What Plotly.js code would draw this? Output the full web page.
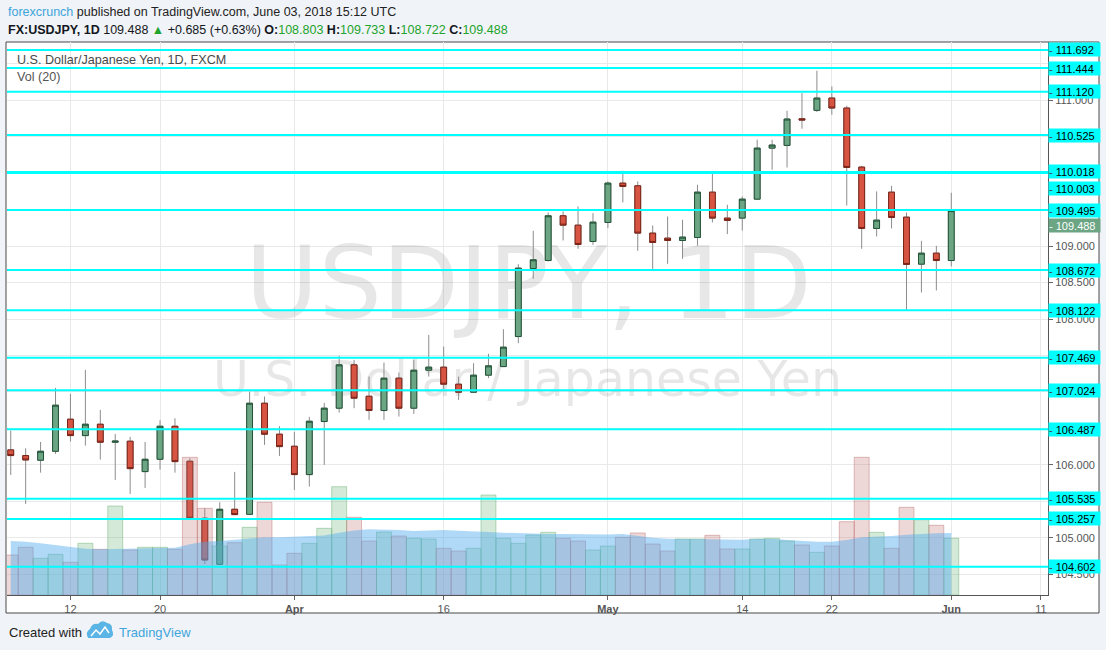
<!DOCTYPE html>
<html><head><meta charset="utf-8">
<script src="https://cdn.plot.ly/plotly-3.0.1.min.js"></script>
<style>html,body{margin:0;padding:0;background:#f0f3f7;}#chart{width:1106px;height:650px;}</style>
</head><body><div id="chart"></div>
<script>
// ---------- DATA ----------
const dates = ['2018-03-06','2018-03-07','2018-03-08','2018-03-09','2018-03-12','2018-03-13','2018-03-14','2018-03-15','2018-03-16','2018-03-19','2018-03-20','2018-03-21','2018-03-22','2018-03-23','2018-03-26','2018-03-27','2018-03-28','2018-03-29','2018-03-30','2018-04-02','2018-04-03','2018-04-04','2018-04-05','2018-04-06','2018-04-09','2018-04-10','2018-04-11','2018-04-12','2018-04-13','2018-04-16','2018-04-17','2018-04-18','2018-04-19','2018-04-20','2018-04-23','2018-04-24','2018-04-25','2018-04-26','2018-04-27','2018-04-30','2018-05-01','2018-05-02','2018-05-03','2018-05-04','2018-05-07','2018-05-08','2018-05-09','2018-05-10','2018-05-11','2018-05-14','2018-05-15','2018-05-16','2018-05-17','2018-05-18','2018-05-21','2018-05-22','2018-05-23','2018-05-24','2018-05-25','2018-05-28','2018-05-29','2018-05-30','2018-05-31','2018-06-01'];
const open  = [106.205,106.127,106.063,106.186,106.626,106.401,106.557,106.310,106.324,105.907,106.076,106.529,106.049,105.267,104.635,105.390,105.321,106.845,106.420,106.255,105.866,106.594,106.777,107.372,106.941,106.745,107.189,106.777,107.298,107.340,107.106,106.996,107.230,107.348,107.760,108.693,108.803,109.417,109.288,109.064,109.325,109.865,109.828,109.179,109.110,109.078,109.119,109.741,109.385,109.385,109.645,110.345,110.382,110.748,110.863,111.032,110.895,110.085,109.243,109.741,109.398,108.753,108.904,108.803];
const high  = [106.470,106.227,106.314,107.056,106.973,107.303,106.754,106.424,106.383,106.314,106.612,106.639,106.090,105.404,105.486,105.903,107.005,106.937,106.529,106.452,106.658,106.850,107.495,107.440,107.211,107.404,107.266,107.440,107.783,107.623,107.211,107.394,107.523,107.861,108.753,109.211,109.462,109.476,109.545,109.453,109.888,110.034,109.888,109.284,109.407,109.362,109.842,109.993,109.568,109.682,110.460,110.460,110.858,111.100,111.407,111.192,110.927,110.103,109.751,109.828,109.462,109.073,109.005,109.733];
const low   = [105.861,105.463,105.893,106.150,106.319,106.264,106.072,105.793,105.601,105.683,105.935,105.893,105.260,104.640,104.630,105.310,105.310,106.273,106.122,105.655,105.701,105.999,106.717,106.777,106.617,106.617,106.662,106.699,107.211,107.038,106.891,106.990,107.189,107.340,107.669,108.552,108.790,109.078,108.964,109.018,109.247,109.600,108.936,108.662,108.758,108.826,109.005,109.325,109.165,109.215,109.640,110.048,110.080,110.611,110.840,110.803,109.558,108.964,109.133,109.243,108.126,108.364,108.392,108.722];
const close = [106.127,106.067,106.186,106.818,106.401,106.557,106.310,106.325,105.948,106.076,106.529,106.044,105.267,104.695,105.390,105.317,106.845,106.420,106.250,105.866,106.598,106.777,107.372,106.914,106.745,107.189,106.777,107.298,107.340,107.106,106.996,107.230,107.358,107.614,108.698,108.813,109.417,109.288,109.023,109.330,109.865,109.819,109.179,109.051,109.078,109.124,109.741,109.385,109.353,109.645,110.345,110.387,110.744,110.730,111.032,110.895,110.080,109.243,109.357,109.394,108.749,108.904,108.803,109.488];
const volume = [40,47.7,36.7,40.7,32.7,51.7,45.7,89,45,47.7,47.7,45.7,137.7,86.7,49,52.3,67.7,92.7,30,41.7,51.7,66.7,108.3,77.7,54,63,59,56.7,56,46.7,44,46.7,100,56.7,51.7,60,62.7,56.7,54,45,49,57.7,62,51,44,56,56,59.7,46,46,56,56.7,54,50,42.7,49,73.3,137.7,62.7,46.7,87.7,75.3,69.7,56.7];
const volumeMA = [54,53.3,51.7,50,47.7,46.3,45.7,46,46.3,46.7,46.7,47.3,50.7,53.3,54,55,56.7,57.7,57.7,58.3,59,59.5,62.3,64.5,65.7,65.7,65,64,64.3,65,64.3,63.3,63,62.3,61.7,61,61,61,60.7,60.7,60.5,61,59,57.3,56.3,56,56,56,55,55.3,56.3,56.3,55,54,53.3,53.3,55,57.7,58.3,59,60.3,61.3,61.7,62];
const levels = [111.692,111.444,111.120,110.525,110.018,110.003,109.495,108.672,108.122,107.469,107.024,106.487,105.535,105.257,104.602];
const priceTicks = [104.5,105,106,108,108.5,109,111];
const tickDates = ['2018-03-12','2018-03-20','2018-04-02','2018-04-16','2018-05-01','2018-05-14','2018-05-22','2018-06-01','2018-06-11'];
const tickText = ['12','20','<b>Apr</b>','16','<b>May</b>','14','22','<b>Jun</b>','11'];
const symbolName = 'FX:USDJPY, 1D';
const seriesName = 'U.S. Dollar/Japanese Yen, 1D, FXCM';
const wmMain = 'USDJPY, 1D';
const wmSub = 'U.S. Dollar / Japanese Yen';
const publishLine = 'published on TradingView.com, June 03, 2018 15:12 UTC';
const author = 'forexcrunch';

// ---------- DERIVED ----------
const N = dates.length;
const up = close.map((c, i) => c >= open[i]);
const bodyHigh = open.map((o, i) => Math.max(o, close[i]));
const bodyLow = open.map((o, i) => Math.min(o, close[i]));
const last = close[N - 1], prev = close[N - 2];
const chg = last - prev, pct = chg / prev * 100;

// pixel helpers for paper placement
const PL = 7, PR = 1048, PT = 42, PB = 595;
const px = x => (x - PL) / (PR - PL);
const py = y => (PB - y) / (PB - PT);
const pathPx = s => s.replace(/(-?[\d.]+),(-?[\d.]+)/g, (m, a, b) => px(+a).toFixed(5) + ',' + py(+b).toFixed(5));

const GREEN_TXT = '#22a32c';

const traces = [
  { type: 'scatter', mode: 'text', x: [0.501, 0.5], y: [0.547, 0.382], text: [wmMain, wmSub],
    textposition: 'middle center', cliponaxis: false,
    textfont: { family: 'DejaVu Sans', size: [100, 49], color: 'rgba(0,0,0,0.095)' },
    xaxis: 'x', yaxis: 'y', hoverinfo: 'skip' },
  { type: 'candlestick', x: dates, open: open, high: high, low: low, close: close,
    xaxis: 'x2', yaxis: 'y2', whiskerwidth: 0, hoverinfo: 'skip',
    increasing: { line: { color: '#8c8c8c', width: 1 }, fillcolor: 'rgba(0,0,0,0)' },
    decreasing: { line: { color: '#8c8c8c', width: 1 }, fillcolor: 'rgba(0,0,0,0)' } },
  { type: 'candlestick', x: dates, open: open, high: bodyHigh, low: bodyLow, close: close,
    xaxis: 'x2', yaxis: 'y2', whiskerwidth: 0, hoverinfo: 'skip',
    increasing: { line: { color: '#225437', width: 1 }, fillcolor: '#6ba583' },
    decreasing: { line: { color: '#7a2317', width: 1 }, fillcolor: '#d75442' } },
  { type: 'bar', x: dates, y: volume, xaxis: 'x2', yaxis: 'y3', hoverinfo: 'skip',
    marker: { color: up.map(u => u ? 'rgba(100,175,110,0.28)' : 'rgba(190,110,110,0.28)'),
              line: { color: up.map(u => u ? 'rgba(100,175,110,0.45)' : 'rgba(190,110,110,0.45)'), width: 1 } } },
  { type: 'scatter', mode: 'lines', x: dates, y: volumeMA, xaxis: 'x2', yaxis: 'y3', hoverinfo: 'skip',
    fill: 'tozeroy', fillcolor: 'rgba(80,170,240,0.45)', line: { width: 0, color: 'rgba(80,170,240,0.45)' } }
];

const shapes = [
  { type: 'rect', xref: 'paper', yref: 'paper', x0: px(6), x1: px(1099), y0: py(613), y1: py(42),
    fillcolor: '#ffffff', line: { color: '#4a4a4a', width: 1 }, layer: 'below' }
];
levels.forEach(v => shapes.push({ type: 'line', xref: 'paper', yref: 'y2', x0: 0, x1: 1, y0: v, y1: v,
  line: { color: '#00ffff', width: 2 }, layer: 'above' }));
// TradingView logo
shapes.push({ type: 'path', xref: 'paper', yref: 'paper', layer: 'above',
  path: pathPx('M88,638 Q85,632 90,629 Q92,623 98,624 Q102,619 107,623 Q113,624 112,630 Q115,635 110,638 Z'),
  fillcolor: '#5ab4e5', line: { width: 0 } });
shapes.push({ type: 'path', xref: 'paper', yref: 'paper', layer: 'above',
  path: pathPx('M91,636 L96,630 L100,634 L105,627 L109,633'),
  line: { color: '#ffffff', width: 1.5 } });

const labelShift = { '110.003': -15.5 };
const annotations = [
  { xref: 'paper', yref: 'paper', x: px(6), y: py(12), xanchor: 'left', yanchor: 'middle', showarrow: false,
    text: '<span style="color:#3da4dc">' + author + '</span> ' + publishLine,
    font: { size: 12.5, color: '#222' } },
  { xref: 'paper', yref: 'paper', x: px(6), y: py(30), xanchor: 'left', yanchor: 'middle', showarrow: false,
    text: '<b>' + symbolName + '</b> ' + last.toFixed(3) + ' <span style="color:' + GREEN_TXT + '">▲</span> +' + chg.toFixed(3) + ' (+' + pct.toFixed(2) + '%) ' +
      '<b>O:</b><span style="color:' + GREEN_TXT + '">' + open[N - 1].toFixed(3) + '</span> ' +
      '<b>H:</b><span style="color:' + GREEN_TXT + '">' + high[N - 1].toFixed(3) + '</span> ' +
      '<b>L:</b><span style="color:' + GREEN_TXT + '">' + low[N - 1].toFixed(3) + '</span> ' +
      '<b>C:</b><span style="color:' + GREEN_TXT + '">' + close[N - 1].toFixed(3) + '</span>',
    font: { size: 12.5, color: '#131722' } },
  { xref: 'paper', yref: 'paper', x: px(15), y: py(60), xanchor: 'left', yanchor: 'middle', showarrow: false,
    text: seriesName, font: { size: 12.6, color: '#4a4a4a' } },
  { xref: 'paper', yref: 'paper', x: px(15), y: py(77), xanchor: 'left', yanchor: 'middle', showarrow: false,
    text: 'Vol (20)', font: { size: 12.6, color: '#555' } },
  { xref: 'paper', yref: 'paper', x: px(7), y: py(632), xanchor: 'left', yanchor: 'middle', showarrow: false,
    text: 'Created with', font: { size: 13, color: '#222' } },
  { xref: 'paper', yref: 'paper', x: px(117), y: py(632), xanchor: 'left', yanchor: 'middle', showarrow: false,
    text: 'TradingView', font: { size: 13, color: '#3fa6dd' } }
];
levels.forEach(v => annotations.push({ xref: 'paper', yref: 'y2', x: 1, y: v, xanchor: 'left', yanchor: 'middle',
  yshift: labelShift[v.toFixed(3)] || 0, showarrow: false, align: 'left', width: 51, height: 13, borderpad: 0,
  bgcolor: '#00ffff', text: '<span style="color:#444">-</span> ' + v.toFixed(3), font: { size: 11, color: '#000' } }));
annotations.push({ xref: 'paper', yref: 'y2', x: 1, y: last, xanchor: 'left', yanchor: 'middle', yshift: -15,
  showarrow: false, align: 'left', width: 51, height: 13, borderpad: 0, bgcolor: '#6ba583',
  text: '- ' + last.toFixed(3), font: { size: 11, color: '#ffffff' } });

const layout = {
  width: 1106, height: 650,
  margin: { l: PL, r: 1106 - PR, t: PT, b: 650 - PB, pad: 0 },
  paper_bgcolor: '#f0f3f7', plot_bgcolor: '#ffffff',
  showlegend: false, hovermode: false, bargap: 0, boxgap: 0.44, boxmode: 'overlay',
  font: { family: 'Liberation Sans, Arial, sans-serif', color: '#555' },
  xaxis: { range: [0, 1], visible: false, fixedrange: true },
  yaxis: { range: [0, 1], visible: false, fixedrange: true },
  xaxis2: { type: 'date', overlaying: 'x', anchor: 'y2', range: ['2018-03-05 18:00', '2018-06-11 11:30'],
    rangebreaks: [{ bounds: ['sat', 'mon'] }], rangeslider: { visible: false },
    tickmode: 'array', tickvals: tickDates, ticktext: tickText,
    ticks: 'outside', ticklen: 4, tickcolor: '#666', tickfont: { size: 11, color: '#555' },
    showgrid: true, gridcolor: '#e9e9e9', showline: true, linecolor: '#555', linewidth: 1, zeroline: false },
  yaxis2: { overlaying: 'y', side: 'right', anchor: 'x2', range: [104.214, 111.801],
    tickmode: 'array', tickvals: priceTicks, tickformat: '.3f', ticks: 'outside', ticklen: 4, tickcolor: '#666',
    tickfont: { size: 11, color: '#555' }, showgrid: true, gridcolor: '#e9e9e9',
    minor: { tickmode: 'linear', tick0: 104.5, dtick: 0.5, showgrid: true, gridcolor: '#e9e9e9', ticks: 'outside', ticklen: 4, tickcolor: '#666' },
    showline: true, linecolor: '#555', linewidth: 1, zeroline: false },
  yaxis3: { overlaying: 'y', anchor: 'x2', range: [0, PB - PT], visible: false },
  shapes: shapes, annotations: annotations
};

Plotly.newPlot('chart', traces, layout, { staticPlot: true, displayModeBar: false });
</script>
</body></html>
